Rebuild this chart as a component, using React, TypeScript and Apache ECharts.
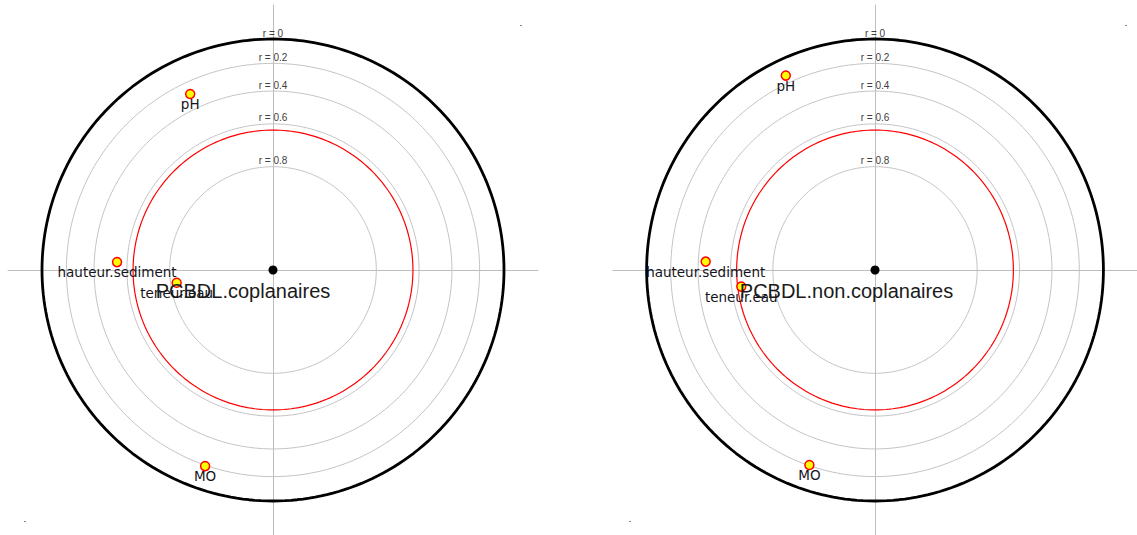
import React, { useEffect, useRef } from "react";
import * as echarts from "echarts";

// Variables (points on the correlation circle)
const variables = ["pH", "hauteur.sediment", "teneur.eau", "MO"];
// Correlation r (0 at the outer circle, 1 at the centre) and angle (degrees)
const leftR = [0.291, 0.543, 0.823, 0.193];
const leftAngle = [115.2, 177.1, 187.5, 250.9];
const rightR = [0.139, 0.449, 0.652, 0.205];
const rightAngle = [114.9, 177.2, 187.0, 251.2];
// Response variable of each panel
const responses = ["PCBDL.coplanaires", "PCBDL.non.coplanaires"];
// Significance threshold circle (r)
const thresholdR = [0.633, 0.633];
// Reference circles
const rTicks = [0, 0.2, 0.4, 0.6, 0.8];
const rTickLabels = ["r = 0", "r = 0.2", "r = 0.4", "r = 0.6", "r = 0.8"];

const EXT = 1.147;
const PX = 231; // px per unit
const CENTERS = [273, 878];
const CY = 270;

const rho = (r: number) => Math.sqrt(1 - r);
const circle = (radius: number) => {
  const pts: number[][] = [];
  for (let i = 0; i <= 240; i++) {
    const a = (i / 240) * Math.PI * 2;
    pts.push([radius * Math.cos(a), radius * Math.sin(a)]);
  }
  return pts;
};

export default function App() {
  const ref = useRef<HTMLDivElement>(null);
  useEffect(() => {
    if (!ref.current) return;
    const chart = echarts.init(ref.current, undefined, { renderer: "svg" });
    const half = EXT * PX;
    const grids = CENTERS.map((cx) => ({
      left: cx - half,
      top: CY - half,
      width: 2 * half,
      height: 2 * half,
    }));
    const axisCommon = {
      type: "value" as const,
      min: -EXT,
      max: EXT,
      axisLine: { show: true, onZero: true, lineStyle: { color: "#bdbdbd", width: 1 } },
      axisTick: { show: false },
      axisLabel: { show: false },
      splitLine: { show: false },
    };
    const series: any[] = [];
    const panels = [
      { r: leftR, ang: leftAngle, resp: responses[0], thr: thresholdR[0], off: -30 },
      { r: rightR, ang: rightAngle, resp: responses[1], thr: thresholdR[1], off: -28.5 },
    ];
    panels.forEach((p, gi) => {
      const base = { xAxisIndex: gi, yAxisIndex: gi, silent: true };
      rTicks.forEach((t, i) => {
        series.push({
          ...base,
          type: "line",
          data: circle(rho(t)),
          symbol: "none",
          lineStyle: { color: i === 0 ? "#000" : "#c4c4c4", width: i === 0 ? 2.8 : 1 },
          z: i === 0 ? 3 : 2,
        });
      });
      series.push({
        ...base,
        type: "line",
        data: circle(rho(p.thr)),
        symbol: "none",
        lineStyle: { color: "#ff0000", width: 1.2 },
        z: 3,
      });
      series.push({
        ...base,
        type: "scatter",
        symbolSize: 0,
        itemStyle: { opacity: 1 },
        data: rTicks.map((t, i) => ({ value: [0, rho(t)], name: rTickLabels[i] })),
        label: {
          show: true,
          position: "top",
          distance: 1,
          formatter: (d: any) => d.name,
          fontFamily: "Liberation Sans, Arial, sans-serif",
          fontSize: 10,
          color: "#404040",
          textBorderWidth: 0,
          opacity: 1,
        },
        z: 4,
      });
      series.push({
        ...base,
        type: "scatter",
        symbol: "circle",
        symbolSize: 9,
        itemStyle: { color: "#ffff00", borderColor: "#ff0000", borderWidth: 1.5, opacity: 1 },
        data: variables.map((v, i) => {
          const a = (p.ang[i] * Math.PI) / 180;
          const d = rho(p.r[i]);
          return { value: [d * Math.cos(a), d * Math.sin(a)], name: v };
        }),
        label: {
          show: true,
          position: "inside",
          offset: [0, 10],
          formatter: (d: any) => d.name,
          fontFamily: "DejaVu Sans, sans-serif",
          fontSize: 13.5,
          color: "#141420",
          textBorderWidth: 0,
          opacity: 1,
        },
        z: 5,
      });
      series.push({
        ...base,
        type: "scatter",
        symbol: "circle",
        symbolSize: 9,
        itemStyle: { color: "#000", opacity: 1 },
        data: [{ value: [0, 0], name: p.resp }],
        label: {
          show: true,
          position: "inside",
          offset: [p.off, 21],
          formatter: (d: any) => d.name,
          fontFamily: "Liberation Sans, Arial, sans-serif",
          fontSize: 20,
          color: "#1a1a1a",
          textBorderWidth: 0,
          opacity: 1,
        },
        z: 6,
      });
    });
    const dots = [
      [520, 25],
      [24, 521],
      [629, 521],
      [1125, 25],
    ];
    chart.setOption({
      animation: false,
      backgroundColor: "#fff",
      grid: grids,
      xAxis: grids.map((_, i) => ({ ...axisCommon, gridIndex: i })),
      yAxis: grids.map((_, i) => ({ ...axisCommon, gridIndex: i })),
      series,
      graphic: dots.map(([x, y]) => ({
        type: "rect",
        shape: { x, y, width: 2, height: 1 },
        style: { fill: "#8a7fa8" },
      })),
    });
    return () => chart.dispose();
  }, []);
  return (
    <div
      ref={ref}
      style={{ position: "absolute", left: 0, top: 0, width: 1137, height: 535 }}
    />
  );
}
